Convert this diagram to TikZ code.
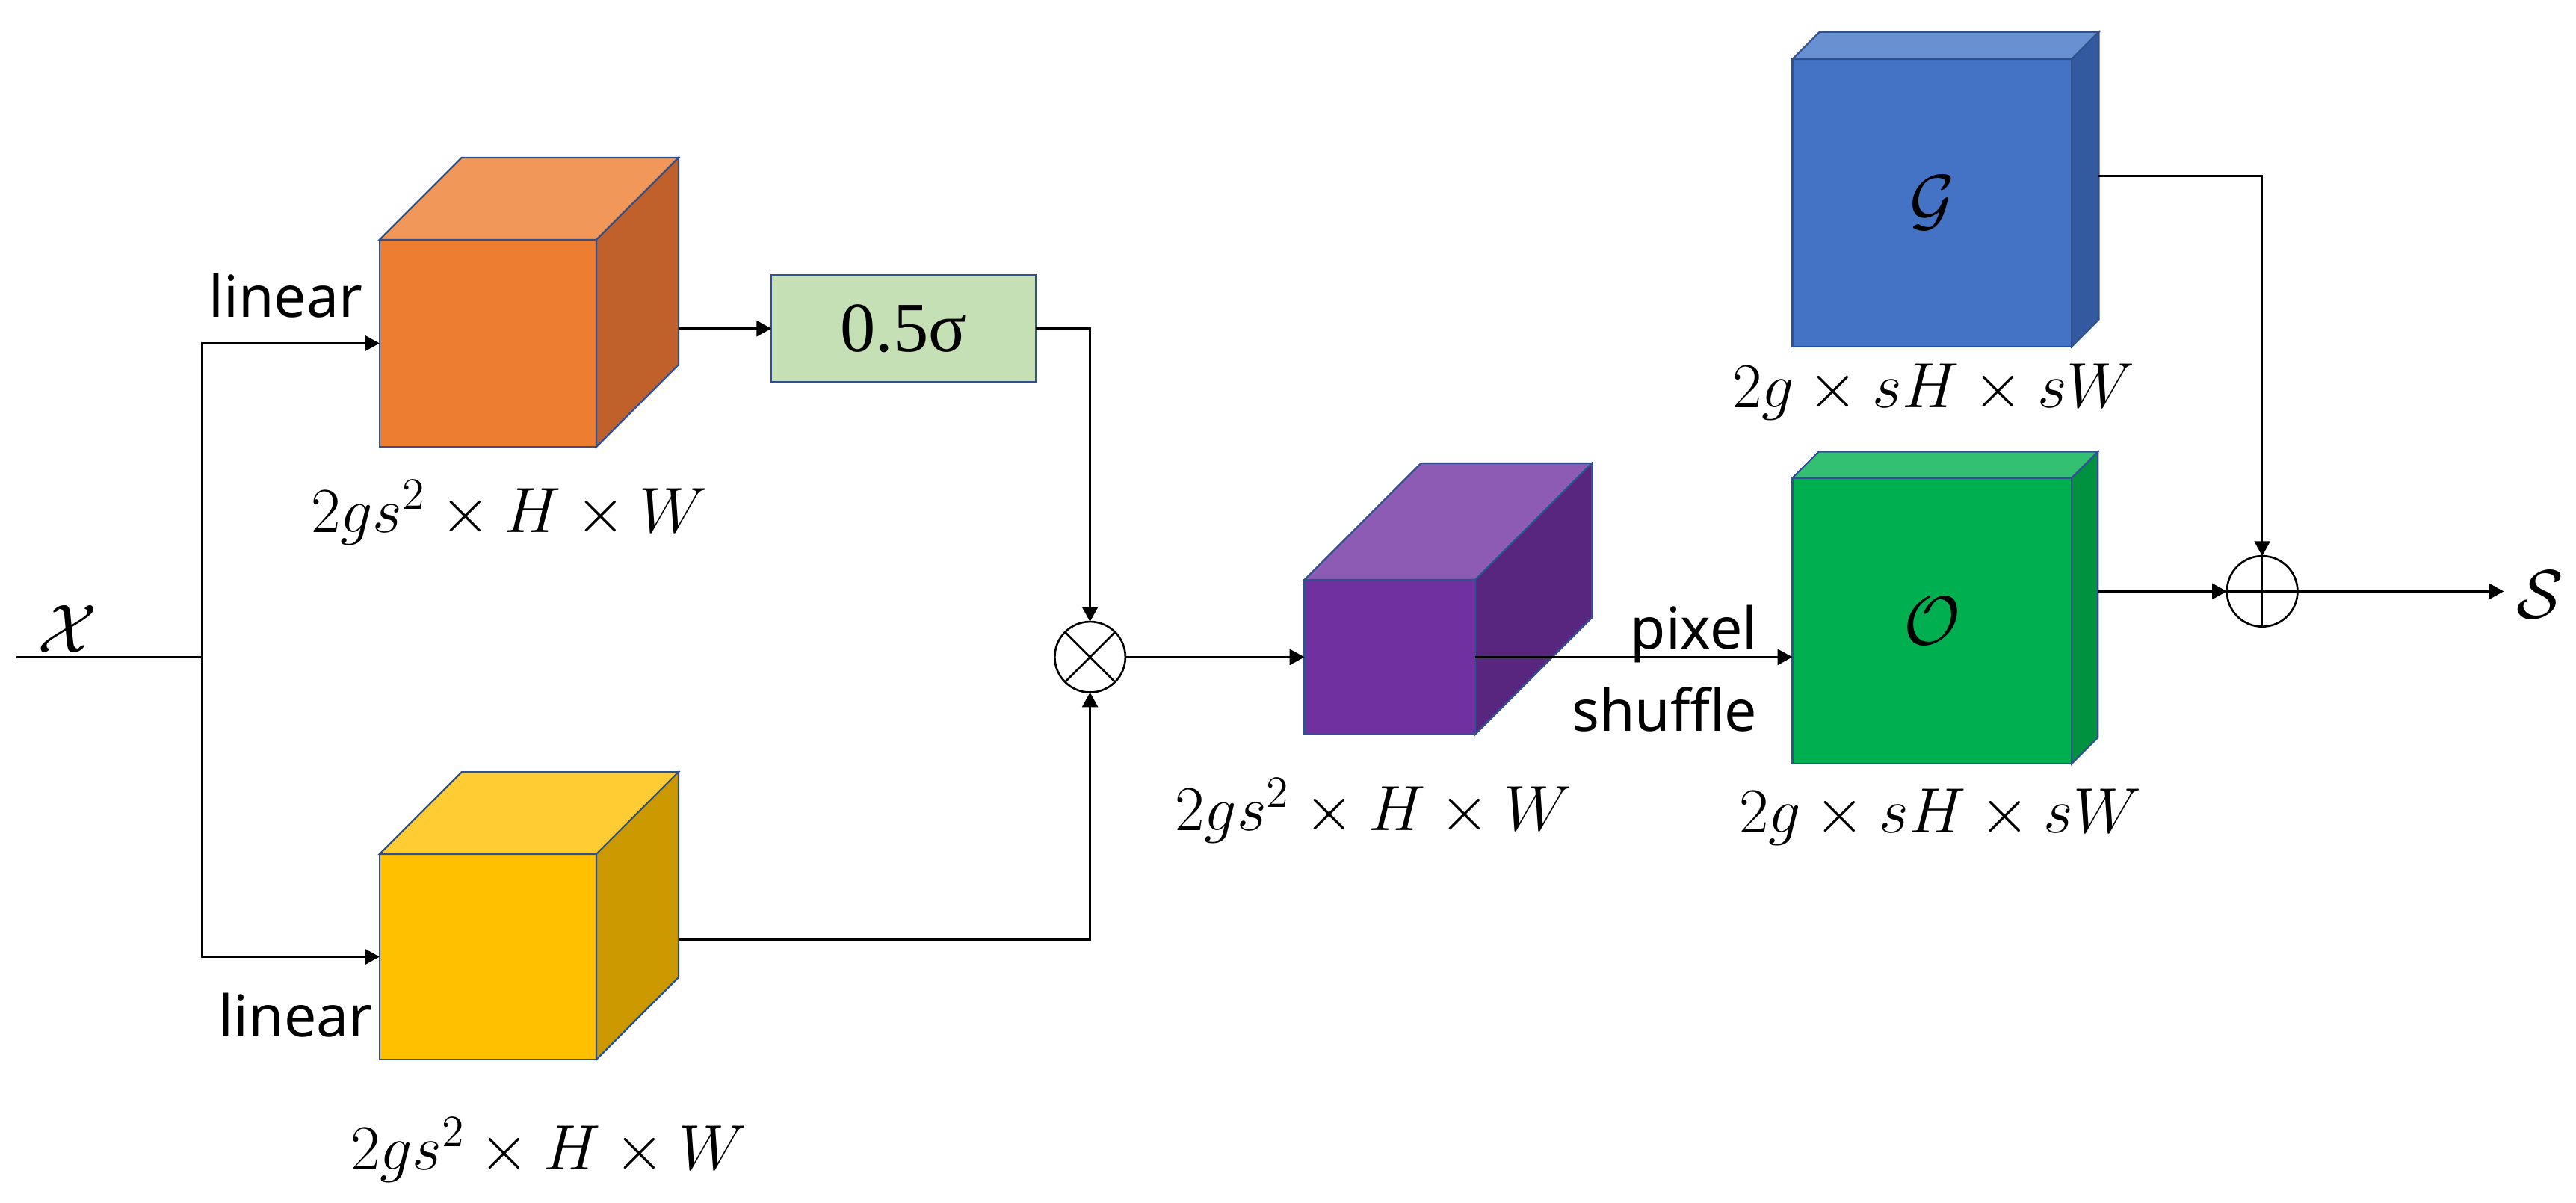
\RequirePackage{fix-cm}
\documentclass[tikz,border=0pt]{standalone}
\usepackage{fontspec}
\newfontfamily\labfont{Noto Sans}
\newfontfamily\sigfont{Liberation Serif}
\usetikzlibrary{calc,arrows.meta}
\definecolor{edgec}{HTML}{2F528F}
\definecolor{cOrF}{HTML}{ED7D31}
\definecolor{cOrT}{HTML}{F1975A}
\definecolor{cOrS}{HTML}{C0612B}
\definecolor{cYeF}{HTML}{FFC000}
\definecolor{cYeT}{HTML}{FFCD33}
\definecolor{cYeS}{HTML}{CC9A00}
\definecolor{cPuF}{HTML}{7030A0}
\definecolor{cPuT}{HTML}{8D5BB4}
\definecolor{cPuS}{HTML}{59267F}
\definecolor{cGrF}{HTML}{00B050}
\definecolor{cGrT}{HTML}{33C073}
\definecolor{cGrS}{HTML}{00923F}
\definecolor{cBlF}{HTML}{4472C4}
\definecolor{cBlT}{HTML}{6990D0}
\definecolor{cBlS}{HTML}{335A9E}
\definecolor{cSig}{HTML}{C5E0B4}
\tikzset{
  face/.style={draw=edgec,line width=0.5pt,inner sep=0pt,outer sep=0pt,rectangle},
  conn/.style={draw=black,line width=0.6pt},
  arr/.style={conn,-{Triangle[length=4.5pt,width=4.8pt]}},
  dimlab/.style={anchor=base,inner sep=0pt,font=\fontsize{19.5}{22}\selectfont},
  txtlab/.style={anchor=base,inner sep=0pt,font=\labfont\fontsize{17.5}{20}\selectfont},
  opnode/.style={circle,draw=black,line width=0.6pt,minimum size=21.5pt,inner sep=0pt,outer sep=0pt,fill=white},
  symlab/.style={inner sep=0pt,font=\fontsize{21}{24}\selectfont}
}
\newcommand{\cubefaces}[4]{%
  \path[draw=edgec,line width=0.5pt,fill=#3] (#1.north west) -- ++(#2,-#2) -- ($(#1.north east)+(#2,-#2)$) -- (#1.north east) -- cycle;
  \path[draw=edgec,line width=0.5pt,fill=#4] (#1.north east) -- ++(#2,-#2) -- ($(#1.south east)+(#2,-#2)$) -- (#1.south east) -- cycle;}
\begin{document}
\begin{tikzpicture}[x=0.5pt,y=-0.5pt]
\useasboundingbox (0,0) rectangle (1568,732);
% cubes
\node[face,fill=cOrF,minimum width=66pt,minimum height=63pt] (orc) at (297,209) {};
\cubefaces{orc}{50}{cOrT}{cOrS}
\node[face,fill=cYeF,minimum width=66pt,minimum height=62.5pt] (yec) at (297,582.5) {};
\cubefaces{yec}{50}{cYeT}{cYeS}
\node[face,fill=cPuF,minimum width=52pt,minimum height=47pt] (puc) at (846,400) {};
\cubefaces{puc}{71}{cPuT}{cPuS}
\node[face,fill=cBlF,minimum width=85pt,minimum height=87.5pt,font=\fontsize{21}{24}\selectfont] (blc) at (1176,123.5) {$\mathcal{G}$};
\cubefaces{blc}{16.5}{cBlT}{cBlS}
\node[face,fill=cGrF,minimum width=85pt,minimum height=87pt,font=\fontsize{21}{24}\selectfont] (grc) at (1176,378) {$\mathcal{O}$};
\cubefaces{grc}{16}{cGrT}{cGrS}
% sigma box
\node[face,fill=cSig,minimum width=80.5pt,minimum height=32.5pt,font=\sigfont\fontsize{21.5}{24}\selectfont] (sig) at (550,200) {0.5σ};
% operators
\node[opnode] (mul) at (663.5,400) {};
\draw[conn] (mul.45) -- (mul.225) (mul.135) -- (mul.315);
\node[opnode] (add) at (1377,360) {};
\draw[conn] (add.north) -- (add.south) (add.west) -- (add.east);
% connectors
\coordinate (xin) at (10,400);
\coordinate (split) at (123,400);
\draw[conn] (xin) -- (split);
\draw[arr] (split) |- (orc.west);
\draw[arr] (split) |- (yec.west);
\coordinate (orout) at ($(orc.north east)+(50,-50)$);
\draw[arr] (orout |- sig.west) -- (sig.west);
\draw[arr] (sig.east) -| (mul.north);
\coordinate (yeout) at ($(yec.east)+(50,-10.5)$);
\draw[arr] (yeout) -| (mul.south);
\draw[arr] (mul.east) -- (puc.west);
\draw[arr] (puc.east) -- (puc.east -| grc.west);
\coordinate (blout) at ($(blc.east)+(16.5,-16.5)$);
\draw[arr] (blout) -| (add.north);
\coordinate (grout) at ($(grc.east)+(16,-18)$);
\draw[arr] (grout) -- (add.west);
\coordinate (send) at (1524,360);
\draw[arr] (add.east) -- (send);
% labels
\node[symlab] (xlab) at (41,383) {$\mathcal{X}$};
\node[symlab] (slab) at (1546,362) {$\mathcal{S}$};
\node[txtlab] (lin1) at (174,193) {linear};
\node[txtlab] (lin2) at (180,631) {linear};
\node[txtlab,anchor=base east] (pix) at (1070,395) {pixel};
\node[txtlab,anchor=base east] (shf) at (1070,445) {shuffle};
\node[dimlab] (d1) at (310,324) {$2gs^2\times H\times W$};
\node[dimlab] (d2) at (334,712) {$2gs^2\times H\times W$};
\node[dimlab] (d3) at (836,505.5) {$2gs^2\times H\times W$};
\node[dimlab] (d4) at (1177,248) {$2g\times sH\times sW$};
\node[dimlab] (d5) at (1181,507) {$2g\times sH\times sW$};
\end{tikzpicture}
\end{document}
